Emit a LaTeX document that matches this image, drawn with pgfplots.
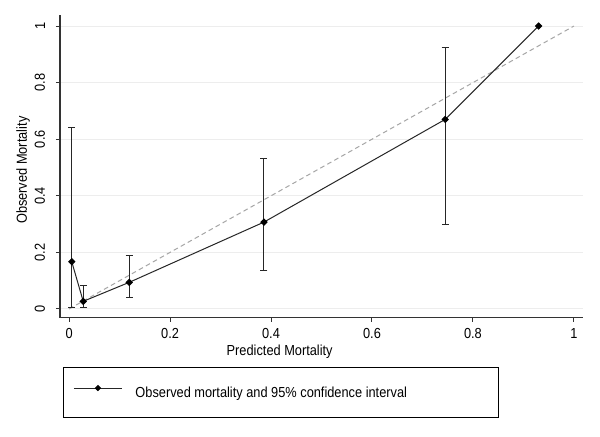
\documentclass[border=0pt]{standalone}
\usepackage{pgfplots}
\pgfplotsset{compat=1.18}
\usepackage{fontspec}
\setmainfont{Liberation Sans}[FakeStretch=0.88]
\newcommand{\fs}{\fontsize{10.9}{13}\selectfont}
\pgfplotstableread{
x y ep em
0.0053 0.167 0.475 0.162
0.028 0.027 0.055 0.021
0.119 0.094 0.096 0.054
0.386 0.307 0.224 0.172
0.745 0.670 0.255 0.370
}\errtable
\pgfplotstableread{
x y
0.0053 0.167
0.028 0.027
0.119 0.094
0.386 0.307
0.745 0.670
0.930 1.000
}\linetable
\begin{document}
\begin{tikzpicture}
\path[use as bounding box, fill=white] (-45pt,-88.7pt) rectangle (405pt,238.3pt);
\begin{axis}[
  at={(0,0)}, anchor=south west,
  scale only axis, width=392.25pt, height=227.25pt,
  xmin=-0.018, xmax=1.018, ymin=-0.031, ymax=1.04,
  axis x line*=bottom, axis y line*=left,
  axis line style={black!80, line width=0.9pt, -},
  xtick={0,0.2,0.4,0.6,0.8,1}, ytick={0,0.2,0.4,0.6,0.8,1},
  xticklabels={0,0.2,0.4,0.6,0.8,1},
  yticklabels={0,0.2,0.4,0.6,0.8,1},
  tick align=outside, major tick length=3pt,
  tick style={black!80, line width=0.75pt},
  ymajorgrids, grid style={black!7, line width=0.75pt},
  xticklabel style={font=\fs, inner sep=0pt, anchor=north},
  yticklabel style={font=\fs, inner sep=0pt, rotate=90, anchor=south},
  xticklabel shift=5pt, yticklabel shift=8pt,
  xlabel={Predicted Mortality}, ylabel={Observed Mortality},
  xlabel style={font=\fs, at={(axis description cs:0.42,0)}, anchor=north, yshift=-20pt, inner sep=0pt},
  ylabel style={font=\fs, at={(axis description cs:-0.0707,0.487)}, anchor=center, rotate=0, inner sep=0pt},
  legend style={at={(0.0057,-0.1617)}, anchor=north west, draw=black, line width=0.75pt,
    inner xsep=7.5pt, inner ysep=13.8pt, font=\fs, nodes={inner sep=0pt}, column sep=0pt},
  legend cell align=left,
  legend image code/.code={
    \draw[mark repeat=2, mark phase=2, #1, mark size=1.3pt] plot coordinates {(0pt,3.5pt) (18pt,3.5pt) (36pt,3.5pt)};
  },
  clip=false,
]
\addplot[black!35, line width=0.75pt, dash pattern=on 3.5pt off 2.5pt, forget plot] coordinates {(0,0) (1,1)};
\addplot[draw=none, mark=none, forget plot,
  error bars/.cd, y dir=both, y explicit,
  error bar style={draw=black!85, line width=0.75pt},
  error mark options={draw=black!85, line width=0.75pt, mark size=2.6pt, rotate=90}]
  table[x=x, y=y, y error plus=ep, y error minus=em] {\errtable};
\addplot[black!85, line width=0.75pt, mark=square*, mark size=1.6pt, mark options={solid, fill=black, draw=black, rotate=45}]
  table[x=x, y=y] {\linetable};
\addlegendentry{\makebox[274.5pt][l]{\hspace*{9.75pt}Observed mortality and 95\% confidence interval}}
\end{axis}
\end{tikzpicture}
\end{document}
